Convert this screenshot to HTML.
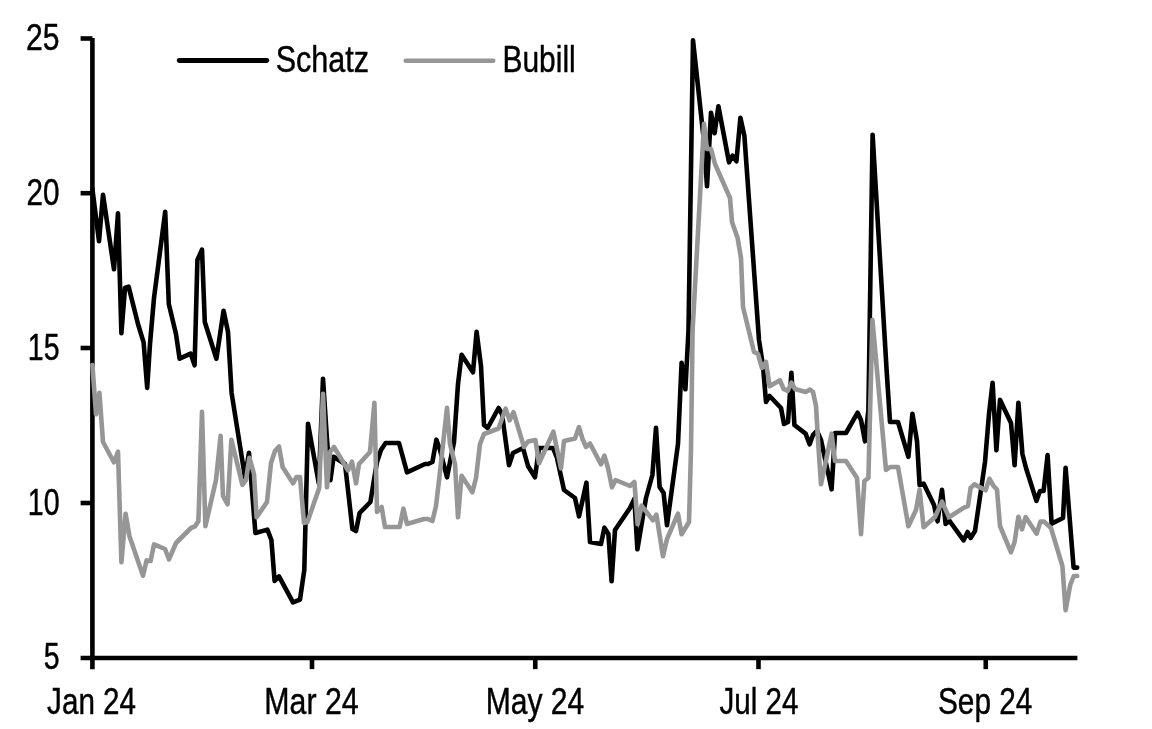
<!DOCTYPE html>
<html><head><meta charset="utf-8"><title>Schatz vs Bubill</title>
<style>
html,body{margin:0;padding:0;background:#fff;}
svg{display:block;}
text{font-family:"Liberation Sans",sans-serif;font-size:37.2px;fill:#000;stroke:#000;stroke-width:0.45px;stroke-linejoin:round;}
</style></head><body>
<svg width="1152" height="729" viewBox="0 0 1152 729">
<rect width="1152" height="729" fill="#fff"/>

<g stroke="#000" stroke-width="4.6" fill="none" stroke-linecap="butt">
<line x1="92.4" y1="38.0" x2="92.4" y2="669.1500000000001"/>
<line x1="80.6" y1="657.95" x2="1077.4" y2="657.95"/>
<line x1="80.6" y1="38.5" x2="92.4" y2="38.5"/>
<line x1="80.6" y1="193.2" x2="92.4" y2="193.2"/>
<line x1="80.6" y1="348.0" x2="92.4" y2="348.0"/>
<line x1="80.6" y1="503.0" x2="92.4" y2="503.0"/>
<line x1="312.0" y1="657.95" x2="312.0" y2="669.1500000000001"/>
<line x1="535.25" y1="657.95" x2="535.25" y2="669.1500000000001"/>
<line x1="758.5" y1="657.95" x2="758.5" y2="669.1500000000001"/>
<line x1="985.75" y1="657.95" x2="985.75" y2="669.1500000000001"/>
</g>
<polyline points="92.4,189.0 99.0,241.3 103.0,194.7 114.0,269.3 118.0,213.2 121.4,333.3 125.0,288.0 128.6,286.6 138.0,324.0 143.6,342.4 147.2,387.9 150.0,344.0 154.0,298.0 165.2,211.7 168.8,304.0 176.0,334.0 179.6,358.6 190.6,353.6 194.6,365.3 197.4,260.0 202.0,249.7 204.8,322.0 216.4,358.7 223.6,310.7 228.0,332.0 231.6,393.0 245.0,477.3 249.0,452.7 255.4,533.0 267.4,529.6 271.4,540.0 274.6,581.0 279.0,576.4 293.0,602.4 300.0,599.6 304.3,570.0 308.0,423.7 318.8,483.3 323.0,378.7 327.0,440.0 330.4,480.3 333.6,456.7 345.0,464.0 348.0,490.0 352.4,529.0 356.0,531.0 359.6,513.0 370.4,502.0 373.6,482.0 377.0,462.0 381.0,450.0 385.6,443.0 399.0,443.0 407.0,472.3 425.0,464.0 428.0,464.0 432.4,462.0 436.4,439.7 440.0,450.0 447.0,477.3 454.0,442.0 458.0,384.0 461.6,354.7 473.0,372.3 476.6,331.7 481.0,366.0 484.0,425.0 487.6,428.0 498.6,408.0 502.0,414.0 509.0,465.3 513.0,453.0 523.0,448.0 528.0,466.0 535.0,477.3 539.0,448.0 553.0,448.0 557.0,458.0 564.0,490.0 575.0,498.0 579.0,516.3 586.4,482.7 590.0,542.0 601.0,544.0 604.4,527.7 608.4,534.0 611.6,581.3 615.0,530.0 630.0,508.0 634.4,498.7 637.4,549.3 646.0,498.0 652.4,475.0 656.0,427.7 659.6,487.0 663.6,493.0 667.0,525.3 678.0,444.0 681.6,362.7 685.4,389.3 688.5,330.0 693.0,40.3 704.0,142.0 707.0,186.3 711.0,112.7 714.6,133.3 718.4,106.3 729.0,162.3 732.6,155.7 736.4,161.3 740.4,117.7 744.4,136.0 759.0,340.0 763.0,366.0 766.0,402.0 769.6,396.0 781.0,408.0 784.0,424.0 788.0,422.0 791.4,372.7 794.4,425.0 805.6,433.6 809.6,444.3 813.0,435.0 817.0,431.0 821.0,440.0 831.6,489.3 835.0,433.0 846.0,433.0 857.6,412.7 861.0,420.0 865.0,441.3 868.4,410.0 872.6,134.7 886.6,370.0 890.0,422.0 898.0,422.0 908.4,456.9 912.4,413.7 917.0,441.0 919.6,485.0 923.6,483.6 934.0,505.0 937.6,521.3 942.0,489.7 945.6,524.0 949.6,521.0 963.6,540.3 967.6,532.0 970.6,538.0 975.0,531.0 981.0,490.0 985.0,462.0 989.0,414.0 992.6,382.7 996.4,450.3 1000.0,399.7 1011.0,423.0 1014.6,465.3 1018.4,402.7 1022.4,454.0 1026.0,468.0 1036.4,500.9 1040.0,491.0 1043.6,491.0 1047.6,455.1 1051.6,523.6 1063.0,518.0 1065.6,467.7 1073.6,567.6 1077.2,567.6" fill="none" stroke="#000" stroke-width="4.6" stroke-linejoin="round" stroke-linecap="round"/>
<polyline points="92.4,365.0 96.0,414.3 99.4,392.7 103.0,442.0 114.0,462.3 118.0,451.7 121.4,562.3 125.6,513.7 129.4,536.0 143.0,575.7 146.6,560.4 150.6,561.0 154.0,544.4 165.0,549.0 169.0,559.3 176.0,543.0 191.0,528.0 195.0,526.4 198.4,521.0 202.0,411.7 205.4,526.3 216.0,480.0 220.6,435.7 223.0,496.0 227.6,504.3 231.4,439.7 242.4,485.0 246.0,480.0 249.4,457.7 254.0,474.0 256.6,517.3 267.0,502.0 271.0,463.0 275.0,451.0 279.0,446.4 282.6,467.0 293.0,483.3 296.6,477.0 300.0,477.0 304.0,523.0 307.4,522.0 319.2,488.0 323.0,393.7 327.0,487.3 330.0,452.0 334.0,447.0 348.0,470.3 352.0,461.7 356.0,483.3 359.0,464.0 370.0,452.0 374.4,402.7 377.0,512.0 381.6,507.0 385.0,527.0 399.6,527.0 403.4,508.7 407.0,524.0 424.0,519.0 428.0,519.0 432.4,521.0 436.0,506.0 440.0,472.0 447.0,407.7 450.0,444.0 455.0,464.0 458.0,517.3 461.6,475.7 472.4,492.3 476.0,478.0 480.0,444.0 484.0,434.0 498.5,428.5 505.6,408.7 509.6,420.3 513.5,412.2 524.0,447.0 528.0,441.5 535.4,440.0 539.0,463.3 553.4,431.7 557.0,449.0 561.0,468.3 564.0,441.0 575.0,438.5 579.0,427.1 582.5,439.0 586.0,447.0 590.0,443.5 601.0,464.3 604.4,455.7 608.0,468.0 612.0,487.3 615.6,480.0 630.0,486.0 634.4,482.0 637.6,524.3 641.6,505.7 653.0,520.3 656.4,514.7 663.0,556.3 667.0,539.0 678.0,513.7 681.6,534.3 689.0,522.0 691.0,450.0 692.6,330.0 704.0,123.7 707.0,149.0 711.0,149.0 715.0,164.0 730.0,198.0 732.0,222.0 737.6,238.0 741.0,258.0 743.0,307.0 754.0,352.0 758.0,354.0 762.0,368.0 766.0,362.0 769.6,386.3 780.0,380.3 783.6,389.0 787.6,391.0 791.4,382.7 795.0,389.0 805.6,392.0 810.0,389.6 813.0,392.0 816.0,406.0 818.0,440.0 821.0,484.3 831.6,433.7 835.0,461.0 846.0,461.0 857.0,478.0 861.0,534.3 864.4,481.0 868.4,478.0 872.4,319.7 886.0,470.0 890.0,467.0 898.0,467.0 908.4,526.3 916.0,510.0 919.6,489.7 923.6,527.3 935.0,517.0 942.0,501.7 949.0,517.3 964.0,507.6 968.0,506.0 970.6,488.0 974.4,484.4 985.6,490.3 989.4,478.7 993.6,486.0 997.0,489.6 1000.0,526.0 1011.0,552.3 1014.6,542.0 1018.4,516.7 1022.0,529.3 1025.6,517.1 1036.6,533.7 1040.4,521.6 1044.0,521.6 1051.0,528.0 1062.4,566.0 1065.6,610.3 1070.2,585.0 1073.8,576.0 1077.2,576.0" fill="none" stroke="#969696" stroke-width="4.6" stroke-linejoin="round" stroke-linecap="round"/>
<line x1="179.2" y1="60.5" x2="266.8" y2="60.5" stroke="#000" stroke-width="4.8" stroke-linecap="round"/>
<line x1="405.8" y1="60.75" x2="493.2" y2="60.75" stroke="#969696" stroke-width="4.7" stroke-linecap="round"/>
<text transform="translate(275.7,71.9) scale(0.8218,1)" text-anchor="start">Schatz</text>
<text transform="translate(502.5,71.9) scale(0.8046,1)" text-anchor="start">Bubill</text>
<text transform="translate(59.6,50.0) scale(0.8091,1)" text-anchor="end">25</text>
<text transform="translate(59.6,204.7) scale(0.7982,1)" text-anchor="end">20</text>
<text transform="translate(59.6,359.5) scale(0.7679,1)" text-anchor="end">15</text>
<text transform="translate(59.6,514.5) scale(0.7679,1)" text-anchor="end">10</text>
<text transform="translate(59.6,669.3) scale(0.7671,1)" text-anchor="end">5</text>
<text transform="translate(91.6,713.9) scale(0.7966,1)" text-anchor="middle">Jan 24</text>
<text transform="translate(311.5,713.9) scale(0.8152,1)" text-anchor="middle">Mar 24</text>
<text transform="translate(535.0,713.9) scale(0.8091,1)" text-anchor="middle">May 24</text>
<text transform="translate(759.0,713.9) scale(0.7959,1)" text-anchor="middle">Jul 24</text>
<text transform="translate(985.2,713.9) scale(0.8012,1)" text-anchor="middle">Sep 24</text>
</svg></body></html>
